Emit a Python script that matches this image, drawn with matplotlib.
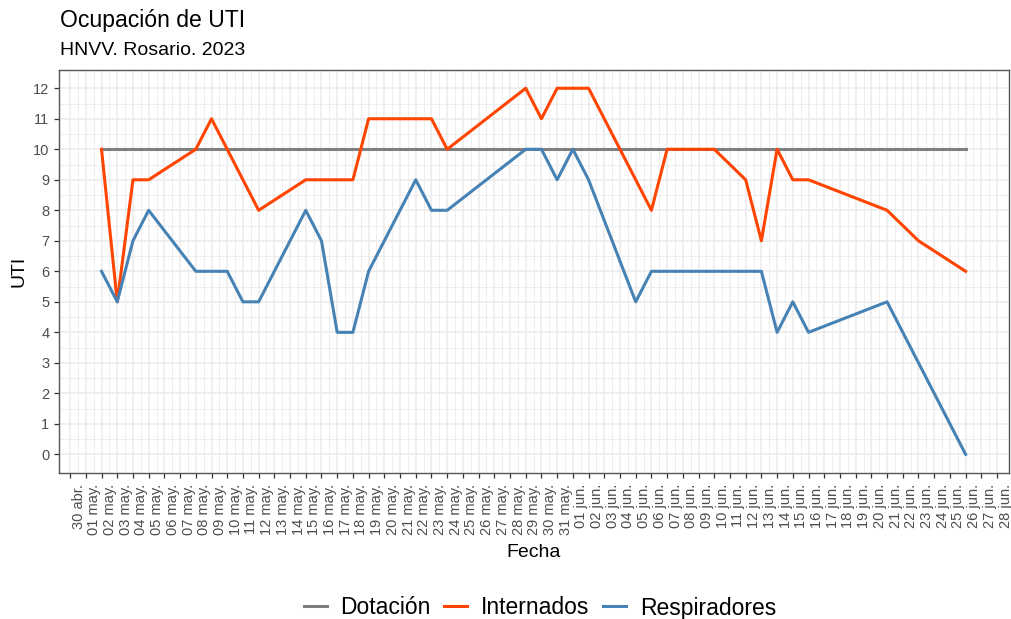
import numpy as np
import matplotlib
matplotlib.use("Agg")
import matplotlib.pyplot as plt
import matplotlib.dates as mdates
import matplotlib.transforms as mtransforms

plt.rcParams['font.family'] = ['Liberation Sans', 'DejaVu Sans']

# Data (dates 2023)
dotacion_fechas = ['2023-05-02', '2023-06-26']
dotacion = [10, 10]

internados_fechas = ['2023-05-02', '2023-05-03', '2023-05-04', '2023-05-05', '2023-05-08',
                     '2023-05-09', '2023-05-12', '2023-05-15', '2023-05-18', '2023-05-19',
                     '2023-05-23', '2023-05-24', '2023-05-29', '2023-05-30', '2023-05-31',
                     '2023-06-02', '2023-06-06', '2023-06-07', '2023-06-10', '2023-06-12',
                     '2023-06-13', '2023-06-14', '2023-06-15', '2023-06-16', '2023-06-21',
                     '2023-06-23', '2023-06-26']
internados = [10, 5, 9, 9, 10, 11, 8, 9, 9, 11, 11, 10, 12, 11, 12, 12, 8, 10, 10, 9,
              7, 10, 9, 9, 8, 7, 6]

respiradores_fechas = ['2023-05-02', '2023-05-03', '2023-05-04', '2023-05-05', '2023-05-08',
                       '2023-05-10', '2023-05-11', '2023-05-12', '2023-05-15', '2023-05-16',
                       '2023-05-17', '2023-05-18', '2023-05-19', '2023-05-22', '2023-05-23',
                       '2023-05-24', '2023-05-29', '2023-05-30', '2023-05-31', '2023-06-01',
                       '2023-06-02', '2023-06-05', '2023-06-06', '2023-06-13', '2023-06-14',
                       '2023-06-15', '2023-06-16', '2023-06-21', '2023-06-26']
respiradores = [6, 5, 7, 8, 6, 6, 5, 5, 8, 7, 4, 4, 6, 9, 8, 8, 10, 10, 9, 10, 9, 5, 6,
                6, 4, 5, 4, 5, 0]

meses = {4: 'abr.', 5: 'may.', 6: 'jun.'}
inicio, fin = '2023-04-30', '2023-06-28'

fig = plt.figure(figsize=(10.11, 6.19), dpi=100)
ax = fig.add_axes([0.058, 0.2364, 0.9397, 0.6506])

ax.plot(np.array(dotacion_fechas, dtype='datetime64[D]'), dotacion,
        color='#7F7F7F', lw=2.2, label='Dotación', solid_joinstyle='round')
ax.plot(np.array(internados_fechas, dtype='datetime64[D]'), internados,
        color='#FF4500', lw=2.2, label='Internados', solid_joinstyle='round')
ax.plot(np.array(respiradores_fechas, dtype='datetime64[D]'), respiradores,
        color='#4682B4', lw=2.2, label='Respiradores', solid_joinstyle='round')

# x axis: one tick per day
dias = np.arange(np.datetime64(inicio), np.datetime64(fin) + 1)
ticks = mdates.date2num(dias.astype('datetime64[s]').astype(object))
ax.set_xticks(ticks)
etiquetas = ['%02d %s' % (d.day, meses[d.month]) for d in dias.astype(object)]
ax.set_xticklabels(etiquetas, rotation=90, ha='left', va='top')
ax.set_xticks(ticks[:-1] + 0.5, minor=True)
ax.set_xlim(ticks[0] - 0.73, ticks[-1] + 0.74)

ax.set_yticks(range(0, 13))
ax.set_yticks(np.arange(0.5, 12.5, 1), minor=True)
ax.set_ylim(-0.6, 12.6)

ax.grid(which='major', color='#EBEBEB', lw=1.1)
ax.grid(which='minor', color='#EBEBEB', lw=0.6)
ax.set_axisbelow(True)
for s in ax.spines.values():
    s.set_color('#555555')
    s.set_linewidth(1.0)

ax.tick_params(which='major', length=3.7, width=0.9, color='#333333',
               labelsize=10.5, labelcolor='#4D4D4D', pad=3)
ax.tick_params(axis='x', which='major', pad=4.5)
ax.tick_params(which='minor', length=0)
offset = mtransforms.ScaledTranslation(1.5 / 100, 0, fig.dpi_scale_trans)
for lab in ax.get_xticklabels():
    lab.set_transform(lab.get_transform() + offset)

ax.set_xlabel('Fecha', fontsize=14, labelpad=6)
ax.set_ylabel('UTI', fontsize=14, labelpad=4)

fig.text(60 / 1011, 1 - 26.7 / 619, 'Ocupación de UTI', fontsize=16.6, va='baseline')
fig.text(60 / 1011, 1 - 55 / 619, 'HNVV. Rosario. 2023', fontsize=14, va='baseline')

fig.legend(loc='center', bbox_to_anchor=(0.534, 1 - 608 / 619), ncol=3, frameon=False,
           fontsize=16.5, handlelength=1.0, handletextpad=0.6, columnspacing=0.6)

fig.savefig('out.png', dpi=100)
